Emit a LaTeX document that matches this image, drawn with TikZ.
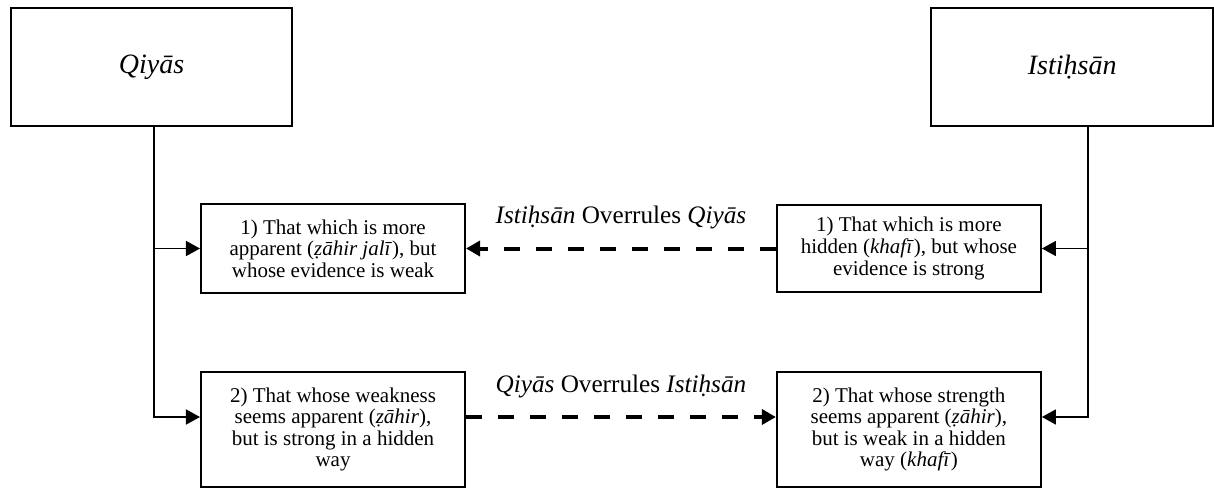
\documentclass[tikz,border=0pt]{standalone}
\usepackage{fontspec}
\setmainfont{Liberation Serif}
\usepackage{tikz}
\usetikzlibrary{shapes.geometric, arrows.meta}

\begin{document}
\begin{tikzpicture}[node distance=2cm, >={Triangle[length=7pt,width=7.5pt]}]
\tikzset{
  title/.style = {rectangle, draw, line width=1pt, minimum width=4.95cm, minimum height=2.07cm, font=\fontsize{14}{17}\selectfont\itshape},
  block/.style = {rectangle, draw, line width=1pt, minimum width=4.64cm, align=center, inner sep=2pt, font=\fontsize{10.5}{10.8}\selectfont},
  line/.style = {draw, line width=0.8pt, ->},
  dline/.style = {draw, line width=2pt, dash pattern=on 8pt off 8pt, ->},
  note/.style = {midway, font=\fontsize{12.6}{15}\selectfont, yshift=0.54cm}
}
\useasboundingbox (0,0) rectangle (21.334,-8.593);
\node [title] (qiyas) at (2.662,-1.177) {Qiyās};
\node [title, right of=qiyas, node distance=16.18cm] (istihsan) {Istiḥsān};
\node [block, minimum height=1.56cm] (weak) at (5.852,-4.367) {1) That which is more\\ apparent (\textit{ẓāhir jalī}), but\\ whose evidence is weak};
\node [block, minimum height=1.52cm, right of=weak, node distance=10.12cm] (strong) {1) That which is more\\ hidden (\textit{khafī}), but whose\\ evidence is strong};
\node [block, minimum height=2.03cm, below of=weak, node distance=3.18cm] (hidstrong) {2) That whose weakness\\ seems apparent (\textit{ẓāhir}),\\ but is strong in a hidden\\ way};
\node [block, minimum height=2.03cm, below of=strong, node distance=3.18cm] (hidweak) {2) That whose strength\\ seems apparent (\textit{ẓāhir}),\\ but is weak in a hidden\\ way (\textit{khafī})};
\coordinate (qbend) at (2.706,-7.328);
\coordinate (ibend) at (19.119,-7.328);
% left side
\path [line] (qiyas.south -| qbend) |- (qbend -| hidstrong.west);
\path [line] (weak.west -| qbend) -- (weak.west);
% right side
\path [line] (istihsan.south -| ibend) |- (ibend -| hidweak.east);
\path [line] (strong.east -| ibend) -- (strong.east);
% overrules
\path [dline] (strong.west) -- node [note] {\textit{Istiḥsān} Overrules \textit{Qiyās}} (weak.east);
\path [dline] (hidstrong.east |- qbend) -- node [note] {\textit{Qiyās} Overrules \textit{Istiḥsān}} (hidweak.west |- qbend);
\end{tikzpicture}
\end{document}
